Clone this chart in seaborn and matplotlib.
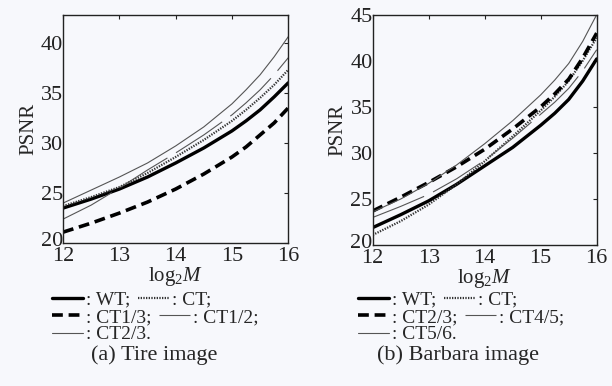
import numpy as np
import pandas as pd
import matplotlib
matplotlib.use('Agg')
import matplotlib.pyplot as plt
import matplotlib.transforms as mtransforms
import seaborn as sns

log2m = [12, 12.5, 13, 13.5, 14, 14.5, 15, 15.25, 15.5, 15.75, 16]

# (a) Tire image
tire_wt = [23.5, 24.4, 25.4, 26.6, 28.0, 29.5, 31.2, 32.2, 33.3, 34.6, 36.0]
tire_ct = [23.7, 24.6, 25.6, 27.0, 28.6, 30.3, 32.2, 33.3, 34.5, 35.8, 37.3]
tire_ct13 = [21.1, 22.0, 23.0, 24.1, 25.4, 26.9, 28.6, 29.6, 30.8, 32.0, 33.5]
tire_ct12 = [22.4, 23.8, 25.5, 27.3, 29.0, 30.8, 32.8, 34.0, 35.3, 36.8, 38.5]
tire_ct23 = [24.0, 25.3, 26.6, 28.0, 29.7, 31.6, 33.9, 35.3, 36.8, 38.6, 40.6]

# (b) Barbara image
barb_wt = [21.9, 23.3, 24.8, 26.6, 28.6, 30.6, 33.0, 34.3, 35.8, 37.8, 40.2]
barb_ct = [21.1, 22.6, 24.4, 26.6, 29.1, 31.8, 34.6, 36.1, 37.8, 40.0, 42.5]
barb_ct23 = [23.7, 25.2, 26.8, 28.5, 30.4, 32.6, 35.0, 36.4, 38.0, 40.3, 43.0]
barb_ct45 = [23.0, 24.2, 25.5, 27.2, 29.2, 31.6, 34.2, 35.5, 37.0, 38.9, 41.2]
barb_ct56 = [23.6, 25.0, 26.7, 28.7, 31.0, 33.5, 36.3, 37.9, 39.7, 42.1, 45.0]

sns.set_theme(style='white')
bg = '#f7f8fc'
plt.rcParams['font.family'] = ['Liberation Serif', 'DejaVu Serif']
plt.rcParams['mathtext.fontset'] = 'custom'
plt.rcParams['mathtext.rm'] = 'Liberation Serif'
plt.rcParams['mathtext.it'] = 'Liberation Serif:italic'

# line styles: thick solid, dotted, thick dashed, thin long-dash, thin solid
styles = [
    dict(color='black', lw=2.4, linestyle='-'),
    dict(color='#333333', lw=1.6, linestyle=(0, (0.6, 0.6))),
    dict(color='black', lw=2.6, linestyle=(0, (3.0, 1.6))),
    dict(color='#555555', lw=0.8, linestyle=(0, (50, 9))),
    dict(color='#555555', lw=0.8, linestyle='-'),
]

fig = plt.figure(figsize=(6.12, 3.86), dpi=100, facecolor=bg)
ax1 = fig.add_axes([0.103, 0.370, 0.368, 0.592])
ax2 = fig.add_axes([0.609, 0.365, 0.366, 0.597])

panels = [
    (ax1, [tire_wt, tire_ct, tire_ct13, tire_ct12, tire_ct23],
     ['WT', 'CT', 'CT1/3', 'CT1/2', 'CT2/3'], (20, 42.8), [20, 25, 30, 35, 40],
     '(a) Tire image', 0.085, 0.252),
    (ax2, [barb_wt, barb_ct, barb_ct23, barb_ct45, barb_ct56],
     ['WT', 'CT', 'CT2/3', 'CT4/5', 'CT5/6'], (20, 45), [20, 25, 30, 35, 40, 45],
     '(b) Barbara image', 0.585, 0.748),
]

for ax, series, names, ylim, yticks, caption, lx, cx in panels:
    ax.set_facecolor(bg)
    handles = []
    for vals, st in zip(series, styles):
        sns.lineplot(x=log2m, y=vals, ax=ax, **st)
        handles.append(ax.lines[-1])
    ax.set_xlim(12, 16)
    ax.set_ylim(*ylim)
    ax.set_xticks([12, 13, 14, 15, 16])
    ax.set_yticks(yticks)
    ax.tick_params(direction='in', length=3, width=0.8, labelsize=16,
                   top=True, right=True, colors='#222222')
    ax.tick_params(axis='y', pad=0)
    ax.tick_params(axis='x', pad=3)
    # the bottom y label sits a little above the corner, as in the reference
    lab = ax.yaxis.get_major_ticks()[0].label1
    lab.set_transform(lab.get_transform() +
                      mtransforms.ScaledTranslation(0, 3 / 72, fig.dpi_scale_trans))
    for s in ax.spines.values():
        s.set_linewidth(1.0)
        s.set_color('#222222')
    ax.set_xlabel(r'$\mathrm{log}_2\mathit{M}$', fontsize=15, labelpad=-1)
    ax.set_ylabel('PSNR', fontsize=15, labelpad=2)

    rows = [([0, 1], [': WT;', ': CT;']),
            ([2, 3], [': %s;' % names[2], ': %s;' % names[3]]),
            ([4], [': %s.' % names[4]])]
    for i, (idx, labs) in enumerate(rows):
        fig.legend([handles[j] for j in idx], labs, ncol=len(idx),
                   loc='upper left', bbox_to_anchor=(lx, 0.246 - i * 0.045),
                   frameon=False, fontsize=14, handlelength=1.6,
                   handletextpad=0.15, columnspacing=0.4,
                   borderpad=0, borderaxespad=0, labelspacing=0)
    fig.text(cx, 0.08, caption, ha='center', va='center', fontsize=16)

fig.savefig('out.png', dpi=100, facecolor=bg)
